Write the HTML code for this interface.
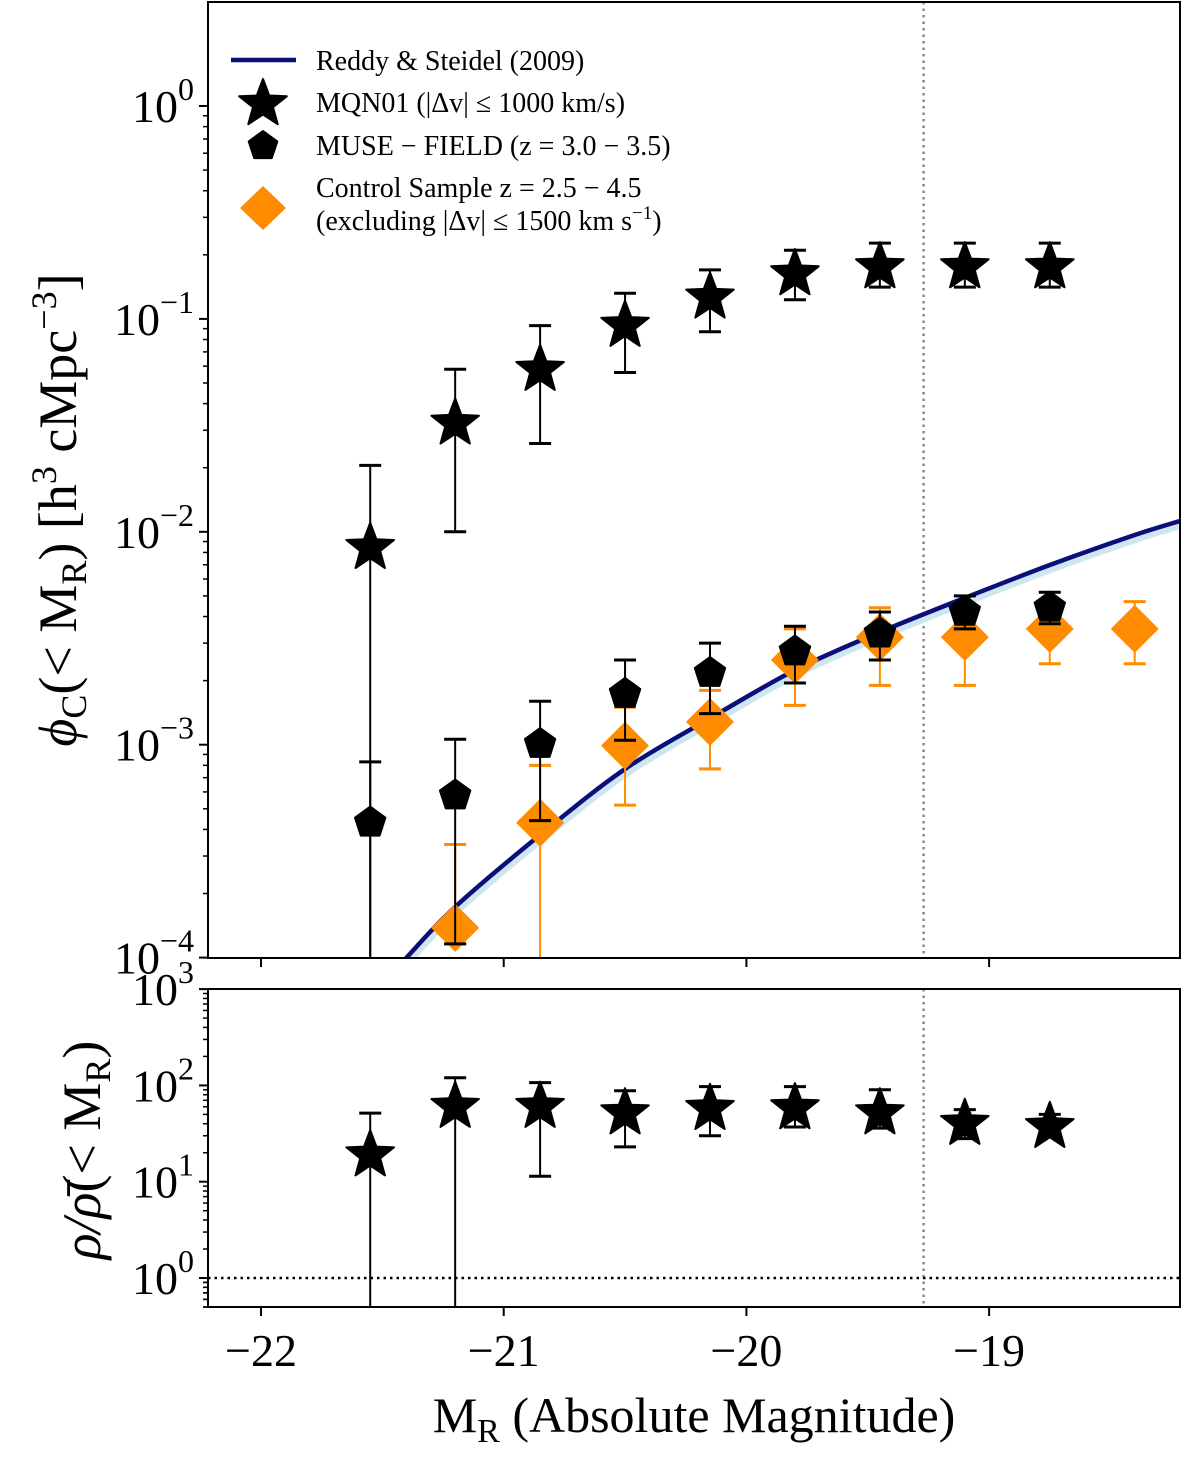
<!DOCTYPE html>
<html><head><meta charset="utf-8"><style>
html,body{margin:0;padding:0;background:#fff;}
svg{display:block;font-family:"Liberation Serif","DejaVu Serif",serif;}
</style></head><body>
<svg id="chart" width="1200" height="1464" viewBox="0 0 1200 1464" xmlns="http://www.w3.org/2000/svg"></svg>
<script>
// ---- data ----
const starMag = [-21.55,-21.2,-20.85,-20.5,-20.15,-19.8,-19.45,-19.1,-18.75];
const starPhi = [0.0086,0.033,0.059,0.095,0.129,0.166,0.179,0.179,0.179];
const starPhiHi = [0.0205,0.058,0.093,0.132,0.17,0.21,0.227,0.227,0.227];
const starPhiLo = [0.00001,0.01,0.026,0.056,0.087,0.123,0.141,0.141,0.141];
const pentMag = [-21.55,-21.2,-20.85,-20.5,-20.15,-19.8,-19.45,-19.1,-18.75];
const pentPhi = [0.00044,0.00059,0.00103,0.00177,0.00222,0.0028,0.0034,0.0043,0.0045];
const pentPhiHi = [0.00083,0.00106,0.0016,0.0025,0.003,0.0036,0.0042,0.005,0.0052];
const pentPhiLo = [0.00001,0.000116,0.00044,0.00105,0.0014,0.00195,0.0025,0.0035,0.0037];
const diaMag = [-21.2,-20.85,-20.5,-20.15,-19.8,-19.45,-19.1,-18.75,-18.4];
const diaPhi = [0.000138,0.00043,0.00099,0.00128,0.0025,0.0032,0.0032,0.0035,0.0035];
const diaPhiHi = [0.00034,0.0008,0.0015,0.0018,0.0035,0.0044,0.0044,0.0047,0.0047];
const diaPhiLo = [0.000116,0.00001,0.00052,0.00077,0.00153,0.0019,0.0019,0.0024,0.0024];
const curveMag = [-21.5,-21.4,-21.2,-20.85,-20.5,-20.15,-19.8,-19.45,-19.1,-18.75,-18.4,-18.2];
const curvePhi = [0.000074,0.0001,0.000173,0.000377,0.000769,0.00133,0.00224,0.00338,0.00489,0.00698,0.00966,0.01136];
const ratioMag = [-21.55,-21.2,-20.85,-20.5,-20.15,-19.8,-19.45,-19.1,-18.75];
const ratio = [19.8,63,63,54,60,61,54,42,39];
const ratioHi = [51.5,120,107,88,97,97,90,56,50];
const ratioLo = [0.01,0.01,11.4,23,30,37,36,28,30];
const xTicks = [-22,-21,-20,-19];
const xTickLabels = ["\u221222","\u221221","\u221220","\u221219"];
const topExp = [0,-1,-2,-3,-4];
const botExp = [3,2,1,0];
const vlineMag = -19.27;

const svg = document.getElementById('chart');
const NS = 'http://www.w3.org/2000/svg';
function mk(tag, attrs, parent){const e=document.createElementNS(NS,tag);for(const k in attrs)e.setAttribute(k,attrs[k]);(parent||svg).appendChild(e);return e;}

const L=208,R=1180,T1=2,B1=958,T2=989,B2=1307;
const X = m => 261 + (m+22)*242.7;
const Y1 = v => 106 - Math.log10(v)*212.9;
const Y2 = v => 1278 - Math.log10(v)*96.3;

const defs = mk('defs',{});
const c1 = mk('clipPath',{id:'c1'},defs); mk('rect',{x:L,y:T1,width:R-L,height:B1-T1},c1);
const c2 = mk('clipPath',{id:'c2'},defs); mk('rect',{x:L,y:T2,width:R-L,height:B2-T2},c2);

function star(cx,cy,r){let p=[];for(let i=0;i<10;i++){const a=-Math.PI/2+i*Math.PI/5;const rr=i%2?r*0.42:r;p.push((cx+rr*Math.cos(a)).toFixed(1)+','+(cy+rr*Math.sin(a)).toFixed(1));}return p.join(' ');}
function pent(cx,cy,r){let p=[];for(let i=0;i<5;i++){const a=-Math.PI/2+i*2*Math.PI/5;p.push((cx+r*Math.cos(a)).toFixed(1)+','+(cy+r*Math.sin(a)).toFixed(1));}return p.join(' ');}
function errbar(g,x,y1,y2,col,name){
  const e=mk('g',{},g);
  
  
  mk('line',{x1:x,y1:y1,x2:x,y2:y2,stroke:col,'stroke-width':2},e);
  mk('line',{x1:x-11,y1:y1,x2:x+11,y2:y1,stroke:col,'stroke-width':3},e);
  mk('line',{x1:x-11,y1:y2,x2:x+11,y2:y2,stroke:col,'stroke-width':3},e);
}
function smooth(pts){
  let d='M'+pts[0][0].toFixed(1)+','+pts[0][1].toFixed(1);
  for(let i=0;i<pts.length-1;i++){
    const p0=pts[i-1]||pts[i],p1=pts[i],p2=pts[i+1],p3=pts[i+2]||p2;
    const c1x=p1[0]+(p2[0]-p0[0])/6,c1y=p1[1]+(p2[1]-p0[1])/6;
    const c2x=p2[0]-(p3[0]-p1[0])/6,c2y=p2[1]-(p3[1]-p1[1])/6;
    d+=`C${c1x.toFixed(1)},${c1y.toFixed(1)} ${c2x.toFixed(1)},${c2y.toFixed(1)} ${p2[0].toFixed(1)},${p2[1].toFixed(1)}`;
  }
  return d;
}

// ---- top panel ----
const g1 = mk('g',{'clip-path':'url(#c1)'});


mk('line',{x1:X(vlineMag),y1:T1,x2:X(vlineMag),y2:B1,stroke:'#888','stroke-width':2.5,'stroke-dasharray':'2.5,4'},g1);
const curPts = curveMag.map((m,i)=>[X(m),Y1(curvePhi[i])]);
const bandEl=mk('path',{d:smooth(curPts.map(p=>[p[0]+2,p[1]+4])),fill:'none',stroke:'#cfe6f0','stroke-width':7},g1);


const curEl=mk('path',{d:smooth(curPts),fill:'none',stroke:'#0b0f7a','stroke-width':4.5},g1);


diaMag.forEach((m,i)=>{
  errbar(g1,X(m),Y1(diaPhiHi[i]),Y1(diaPhiLo[i]),'#ff8c00','control-errorbar');
  const d=mk('polygon',{points:`${X(m)},${Y1(diaPhi[i])-24} ${X(m)+24},${Y1(diaPhi[i])} ${X(m)},${Y1(diaPhi[i])+24} ${X(m)-24},${Y1(diaPhi[i])}`,fill:'#ff8c00'},g1);
  
  
});
pentMag.forEach((m,i)=>{
  errbar(g1,X(m),Y1(pentPhiHi[i]),Y1(pentPhiLo[i]),'#000','muse-field-errorbar');
  const p=mk('polygon',{points:pent(X(m),Y1(pentPhi[i])+2,16),fill:'#000','stroke':'#000','stroke-width':2,'stroke-linejoin':'round'},g1);
  
  
});
starMag.forEach((m,i)=>{
  errbar(g1,X(m),Y1(starPhiHi[i]),Y1(starPhiLo[i]),'#000','mqn01-errorbar');
  const s=mk('polygon',{points:star(X(m),Y1(starPhi[i])+2,25),fill:'#000',stroke:'#000','stroke-width':2,'stroke-linejoin':'round'},g1);
  
  
});

// ---- bottom panel ----
const g2 = mk('g',{'clip-path':'url(#c2)'});


mk('line',{x1:X(vlineMag),y1:T2,x2:X(vlineMag),y2:B2,stroke:'#888','stroke-width':2.5,'stroke-dasharray':'2.5,4'},g2);
const hl=mk('line',{x1:L,y1:Y2(1),x2:R,y2:Y2(1),stroke:'#000','stroke-width':2.5,'stroke-dasharray':'2.5,4'},g2);


ratioMag.forEach((m,i)=>{
  errbar(g2,X(m),Y2(ratioHi[i]),Y2(ratioLo[i]),'#000','overdensity-errorbar');
  const s=mk('polygon',{points:star(X(m),Y2(ratio[i])+2,25),fill:'#000',stroke:'#000','stroke-width':2,'stroke-linejoin':'round'},g2);
  
  
});

// ---- axes ----
function frame(t,b,name){const r=mk('rect',{x:L,y:t,width:R-L,height:b-t,fill:'none',stroke:'#000','stroke-width':2});}
frame(T1,B1,'top-panel-frame'); frame(T2,B2,'bottom-panel-frame');
xTicks.forEach((m,i)=>{
  mk('line',{x1:X(m),y1:B1,x2:X(m),y2:B1+9,stroke:'#000','stroke-width':2});
  mk('line',{x1:X(m),y1:B2,x2:X(m),y2:B2+9,stroke:'#000','stroke-width':2});
  const t=mk('text',{x:X(m),y:1366,'font-size':46,'text-anchor':'middle'});t.textContent=xTickLabels[i];
  
  
});
function ytick(Yf,e,t0,b0){
  const y=Yf(Math.pow(10,e));
  mk('line',{x1:L-9,y1:y,x2:L,y2:y,stroke:'#000','stroke-width':2});
  for(let k=2;k<10;k++){const yy=Yf(k*Math.pow(10,e-1));if(yy>t0&&yy<b0)mk('line',{x1:L-5,y1:yy,x2:L,y2:yy,stroke:'#000','stroke-width':1.5});}
  const t=mk('text',{x:194,y:y+16,'font-size':46,'text-anchor':'end'});
  
  
  t.innerHTML='10<tspan dy="-22" font-size="32">'+(e<0?'\u2212':'')+Math.abs(e)+'</tspan>';
}
topExp.forEach(e=>ytick(Y1,e,T1,B1));
botExp.forEach(e=>ytick(Y2,e,T2,B2));
for(let k=5;k<10;k++){const yy=Y2(k/10);mk('line',{x1:L-5,y1:yy,x2:L,y2:yy,stroke:'#000','stroke-width':1.5});}

// axis titles
const xt=mk('text',{x:694,y:1432,'font-size':50,'text-anchor':'middle'});


xt.innerHTML='M<tspan font-size="34" dy="10">R</tspan><tspan dy="-10"> (Absolute Magnitude)</tspan>';
const yt1=mk('text',{x:0,y:0,'font-size':54,'text-anchor':'middle',transform:'translate(76,510) rotate(-90)'});


yt1.innerHTML='<tspan font-style="italic">ϕ</tspan><tspan font-size="36" dy="10">C</tspan><tspan dy="-10">(&lt; M</tspan><tspan font-size="36" dy="10">R</tspan><tspan dy="-10">) [h</tspan><tspan font-size="36" dy="-20">3</tspan><tspan dy="20"> cMpc</tspan><tspan font-size="36" dy="-20">−3</tspan><tspan dy="20">]</tspan>';
const yt2=mk('text',{x:0,y:0,'font-size':54,'text-anchor':'middle',transform:'translate(100,1150) rotate(-90)'});


yt2.innerHTML='<tspan font-style="italic">ρ/ρ̄</tspan>(&lt; M<tspan font-size="36" dy="10">R</tspan><tspan dy="-10">)</tspan>';

// legend
const lg=mk('g',{});


mk('line',{x1:231,y1:60,x2:296,y2:60,stroke:'#0b0f7a','stroke-width':4.5},lg);
mk('polygon',{points:star(263,104,25),fill:'#000',stroke:'#000','stroke-width':2,'stroke-linejoin':'round'},lg);
mk('polygon',{points:pent(263,146,15),fill:'#000',stroke:'#000','stroke-width':2,'stroke-linejoin':'round'},lg);
mk('polygon',{points:'263,186 286,208 263,230 240,208',fill:'#ff8c00'},lg);
const legTexts=[['Reddy & Steidel (2009)',70],['MQN01 (|Δv| ≤ 1000 km/s)',112],['MUSE − FIELD (z = 3.0 − 3.5)',155],['Control Sample z = 2.5 − 4.5',197]];
legTexts.forEach(([s,y])=>{const t=mk('text',{x:316,y:y,'font-size':28},lg);t.textContent=s;});
const t5=mk('text',{x:316,y:230,'font-size':28},lg);


t5.innerHTML='(excluding |Δv| ≤ 1500 km s<tspan font-size="19" dy="-11">−1</tspan><tspan dy="11">)</tspan>';
</script>
</body></html>
